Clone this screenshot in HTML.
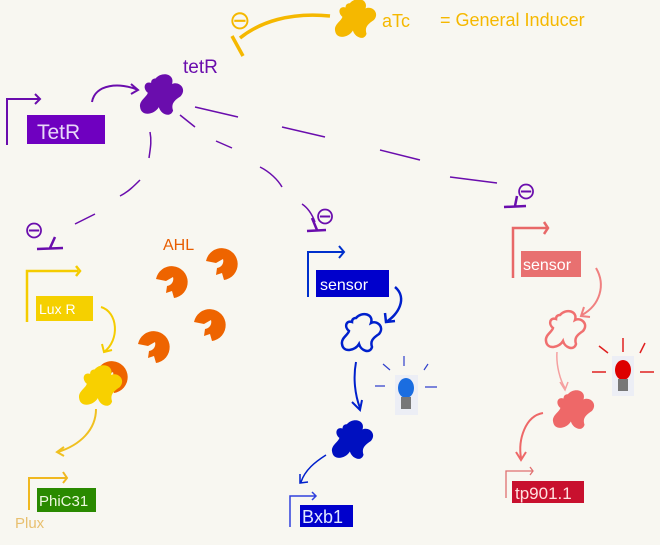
<!DOCTYPE html>
<html><head><meta charset="utf-8"><style>
html,body{margin:0;padding:0;background:#f8f7f1;}
svg{display:block;font-family:"Liberation Sans",sans-serif;}
</style></head><body>
<svg width="660" height="545" viewBox="0 0 660 545" xmlns="http://www.w3.org/2000/svg">
<defs>
<path id="blob" d="M-5,-15 C1,-22 13,-19 10,-10 C16,-13 24,-6 18,1 C12,5 9,8 11,14 C9,21 0,18 -2,11 C-6,18 -18,20 -19,11 C-20,5 -13,2 -12,-2 C-17,-6 -15,-13 -9,-11 C-9,-14 -7,-15 -5,-15 Z"/>
<path id="pac" d="M-14,-4 A16,16 0 1 1 4,15 L2,8 L-4,10 L-3,3 A7,7 0 0 0 3,-6 L-4,-2 Z"/>
</defs>
<rect width="660" height="545" fill="#f8f7f1"/>

<!-- aTc -->
<text x="229" y="29" font-size="26" fill="#f5b800">⊖</text>
<path d="M330,16 C290,12 260,22 240,38" stroke="#f5b800" stroke-width="3.5" fill="none"/>
<path d="M232,36 L243,56" stroke="#f5b800" stroke-width="3.5"/>
<use href="#blob" transform="translate(355,19) scale(1.05)" fill="#f5b800"/>
<text x="382" y="27" font-size="18" fill="#f5b800">aTc</text>
<text x="440" y="26" font-size="18" fill="#f5b800">= General Inducer</text>

<!-- tetR -->
<text x="183" y="73" font-size="19" fill="#6a0dad">tetR</text>
<use href="#blob" transform="translate(161,95) scale(1.1)" fill="#6a0dad"/>
<path d="M7,145 L7,99 L40,99 M35,94 L40,99 L35,104" stroke="#6a0dad" stroke-width="2" fill="none"/>
<rect x="27" y="115" width="78" height="29" fill="#6f00c0"/>
<text x="37" y="139" font-size="21" fill="#e8d8f8">TetR</text>
<path d="M92,102 C95,84 120,82 138,90 M131,84 L138,90 L131,94" stroke="#6a0dad" stroke-width="2" fill="none"/>

<g stroke="#6a0dad" stroke-width="1.5" fill="none">
<path d="M150,132 C152,142 150,150 149,158"/>
<path d="M140,180 C134,186 128,192 120,196"/>
<path d="M95,214 L75,224"/>
<path d="M180,115 L195,127"/>
<path d="M216,141 L232,148"/>
<path d="M260,167 C270,172 278,180 282,187"/>
<path d="M302,204 C308,208 312,214 315,222"/>
<path d="M195,107 L238,117"/>
<path d="M282,127 L325,137"/>
<path d="M380,150 L420,160"/>
<path d="M450,177 L497,183"/>
</g>
<text x="24" y="238" font-size="24" fill="#6a0dad">⊖</text>
<path d="M37,249 L63,248 M50,248 L55,237" stroke="#6a0dad" stroke-width="2.5" fill="none"/>
<text x="315" y="224" font-size="24" fill="#6a0dad">⊖</text>
<path d="M307,231 L326,230 M317,230 L312,218" stroke="#6a0dad" stroke-width="2.5" fill="none"/>
<text x="516" y="199" font-size="24" fill="#6a0dad">⊖</text>
<path d="M504,207 L526,206 M515,206 L517,196" stroke="#6a0dad" stroke-width="2.5" fill="none"/>

<!-- Lux -->
<path d="M27,322 L27,271 L78,271 M76,266 L80,271 L76,276" stroke="#f5cc00" stroke-width="2.5" fill="none"/>
<rect x="36" y="296" width="57" height="25" fill="#f5d000"/>
<text x="39" y="314" font-size="14" fill="#fff">Lux R</text>
<path d="M101,307 C118,312 120,340 104,352 M102,344 L104,352 L112,350" stroke="#f5cc00" stroke-width="2" fill="none"/>
<text x="163" y="250" font-size="16" fill="#e85d00">AHL</text>
<g fill="#ee6400">
<use href="#pac" x="170" y="283"/>
<use href="#pac" x="220" y="265"/>
<use href="#pac" x="208" y="326"/>
<use href="#pac" x="152" y="348"/>
<use href="#pac" x="110" y="378"/>
</g>
<use href="#blob" transform="translate(100,386) scale(1.1)" fill="#f8d000"/>
<path d="M96,409 C96,430 80,445 58,452 M64,447 L57,452 L64,456" stroke="#f0c020" stroke-width="2" fill="none"/>
<path d="M29,510 L29,478 L66,478 M63,472 L67,478 L63,483" stroke="#f0b820" stroke-width="2" fill="none"/>
<rect x="37" y="488" width="59" height="24" fill="#2a8a00"/>
<text x="39" y="506" font-size="15" fill="#eef8e0">PhiC31</text>
<text x="15" y="528" font-size="15" fill="#e8c070">Plux</text>

<!-- blue -->
<path d="M308,297 L308,252 L343,252 M339,246 L344,252 L339,258" stroke="#0030cc" stroke-width="2" fill="none"/>
<rect x="316" y="270" width="73" height="27" fill="#0000cc"/>
<text x="320" y="290" font-size="16" fill="#fff">sensor</text>
<path d="M395,287 C408,298 398,315 386,322 M385,313 L386,322 L395,321" stroke="#0020cc" stroke-width="2.5" fill="none"/>
<use href="#blob" transform="translate(361,333)" fill="none" stroke="#0020cc" stroke-width="2.5"/>
<path d="M356,362 C353,378 355,395 360,408 M352,402 L360,410 L362,400" stroke="#0020cc" stroke-width="2" fill="none"/>
<use href="#blob" transform="translate(352,440) scale(1.05)" fill="#0010c0"/>
<path d="M326,455 C315,462 305,470 301,482 M300,474 L300,483 L308,482" stroke="#0020cc" stroke-width="1.5" fill="none"/>
<path d="M290,527 L290,496 L316,496 M312,492 L316,496 L312,500" stroke="#3040dd" stroke-width="1.5" fill="none"/>
<rect x="300" y="505" width="53" height="22" fill="#0000cc"/>
<text x="302" y="523" font-size="18" fill="#e0e8ff">Bxb1</text>
<rect x="395" y="375" width="23" height="40" fill="#eceef5"/>
<ellipse cx="406" cy="388" rx="8" ry="10" fill="#1a6de0"/>
<rect x="401" y="397" width="10" height="12" fill="#777"/>
<g stroke="#3040cc" stroke-width="1.2"><path d="M404,356 L404,366 M383,364 L390,370 M428,364 L424,370 M375,386 L385,386 M425,387 L437,387"/></g>

<!-- red -->
<path d="M513,278 L513,228 L548,228 M544,222 L548,228 L544,234" stroke="#e86868" stroke-width="2.5" fill="none"/>
<rect x="521" y="251" width="60" height="26" fill="#e87070"/>
<text x="523" y="270" font-size="16" fill="#fff">sensor</text>
<path d="M596,268 C606,285 600,305 582,315 M584,307 L581,316 L590,317" stroke="#f08080" stroke-width="2" fill="none"/>
<use href="#blob" transform="translate(565,330)" fill="none" stroke="#f07070" stroke-width="2.5"/>
<path d="M557,352 C556,365 560,380 565,388 M560,382 L565,390 L568,382" stroke="#f5a0a0" stroke-width="1.5" fill="none"/>
<use href="#blob" transform="translate(573,410) scale(1.05)" fill="#ee6868"/>
<path d="M543,413 C525,416 518,440 521,458 M516,452 L521,460 L526,452" stroke="#ee6868" stroke-width="2" fill="none"/>
<path d="M506,498 L506,471 L533,471 M530,467 L533,471 L530,475" stroke="#e07070" stroke-width="1.3" fill="none"/>
<rect x="512" y="481" width="72" height="22" fill="#c8102e"/>
<text x="515" y="499" font-size="17" fill="#ffe0e0">tp901.1</text>
<rect x="612" y="356" width="22" height="40" fill="#eceef5"/>
<ellipse cx="623" cy="370" rx="8" ry="10" fill="#dd0000"/>
<rect x="618" y="379" width="10" height="12" fill="#777"/>
<g stroke="#e02020" stroke-width="1.5"><path d="M623,338 L623,352 M599,346 L608,353 M645,343 L640,353 M592,372 L606,372 M640,372 L654,372"/></g>
</svg>
</body></html>
